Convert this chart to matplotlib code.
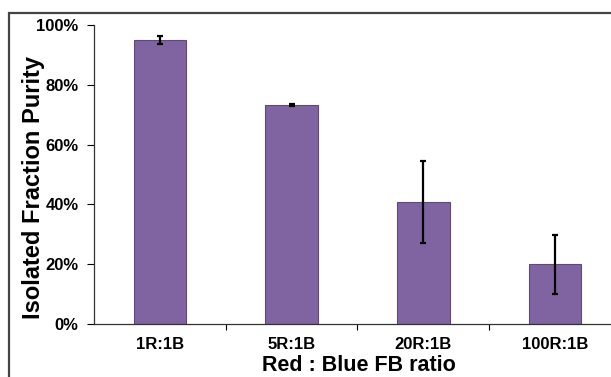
import matplotlib
matplotlib.use("Agg")
import matplotlib.pyplot as plt
from matplotlib.patches import Rectangle
from matplotlib.ticker import FuncFormatter

# data
ratios = ["1R:1B", "5R:1B", "20R:1B", "100R:1B"]
purity = [0.950, 0.733, 0.408, 0.199]
purity_err = [0.012, 0.003, 0.136, 0.100]

BAR_COLOR = "#8064A2"
EDGE_COLOR = "#5E4A7A"

plt.rcParams["font.family"] = ["Liberation Sans", "DejaVu Sans"]
plt.rcParams["font.weight"] = "bold"

fig = plt.figure(figsize=(6.11, 3.77), dpi=100)
ax = fig.add_axes([94 / 611, 53 / 377, 527 / 611, 299 / 377])

x = range(len(ratios))
ax.bar(x, purity, width=0.4, color=BAR_COLOR, edgecolor=EDGE_COLOR, linewidth=0.8)
ax.errorbar(x, purity, yerr=purity_err, fmt="none", ecolor="black",
            elinewidth=1.6, capsize=2, capthick=1.6)

ax.set_xlim(-0.5, len(ratios) - 0.5)
ax.set_ylim(0, 1.0)
ax.set_yticks([0, 0.2, 0.4, 0.6, 0.8, 1.0])
ax.yaxis.set_major_formatter(FuncFormatter(lambda v, _: f"{v * 100:.0f}%"))
ax.set_xticks([i + 0.5 for i in range(len(ratios) - 1)], minor=False)
ax.set_xticklabels([])
ax.set_xticks(list(x), minor=True)
ax.set_xticklabels(ratios, minor=True)
ax.tick_params(axis="x", which="minor", length=0, pad=9.5, labelsize=12)
ax.tick_params(axis="x", which="major", direction="out", length=4, width=0.8)
ax.tick_params(axis="y", direction="out", length=5, width=0.8, labelsize=12, pad=6)

for side in ["top", "right"]:
    ax.spines[side].set_visible(False)
for side in ["left", "bottom"]:
    ax.spines[side].set_linewidth(0.9)
    ax.spines[side].set_color("#333333")

ax.set_ylabel("Isolated Fraction Purity", fontsize=17, fontweight="bold")
ax.yaxis.set_label_coords(-0.093, 0.455)
ax.set_xlabel("Red : Blue FB ratio", fontsize=15.5, fontweight="bold")
ax.xaxis.set_label_coords(0.502, -0.104)

# outer frame of the original figure (cropped at right/bottom)
fig.patches.append(Rectangle((9 / 611, -0.1), 1.2, (377 - 13) / 377 + 0.1,
                             transform=fig.transFigure, fill=False,
                             edgecolor="#444444", linewidth=1.6, clip_on=False))

fig.savefig("out.png", dpi=100)
